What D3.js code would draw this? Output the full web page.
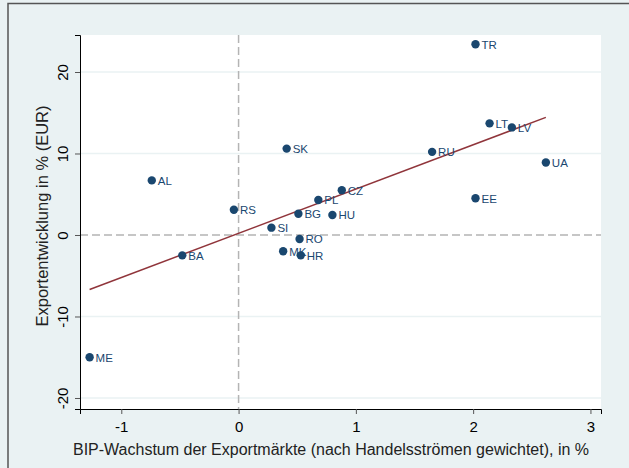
<!DOCTYPE html>
<html>
<head>
  <meta charset="utf-8">
  <title>Exportentwicklung vs. BIP-Wachstum der Exportmärkte</title>
  <style>
    body {
      margin: 0;
      padding: 0;
      background: #eaf2f3;
      font-family: "Liberation Sans", Arial, sans-serif;
    }
    .label {
      fill: #1a476f;
      font-size: 11.5px;
    }
    .tick text {
      font-size: 15px;
      fill: #000;
    }
    .axis-title {
      font-size: 16px;
      fill: #222;
    }
  </style>
</head>
<body>
  <div id="chart"></div>

  <script src="https://d3js.org/d3.v7.min.js"></script>
  <script>

  // country codes and their values (x: GDP growth of export markets, y: export growth)
  var countries = ["TR", "LT", "LV", "RU", "UA", "EE", "SK", "AL", "RS", "SI",
                   "BG", "PL", "CZ", "HU", "RO", "MK", "HR", "BA", "ME"]
  var gdpGrowth = [2.02, 2.14, 2.33, 1.65, 2.62, 2.02, 0.41, -0.74, -0.04, 0.28,
                   0.51, 0.68, 0.88, 0.80, 0.52, 0.38, 0.53, -0.48, -1.27]
  var exportGrowth = [23.4, 13.7, 13.2, 10.2, 8.9, 4.5, 10.6, 6.7, 3.1, 0.9,
                      2.6, 4.3, 5.5, 2.45, -0.5, -2.0, -2.5, -2.5, -15.0]

  // fitted line
  var fitSlope = 5.43,
      fitIntercept = 0.21

  var xTicks = [-1, 0, 1, 2, 3],
      yTicks = [-20, -10, 0, 10, 20]

  var xTitle = "BIP-Wachstum der Exportmärkte (nach Handelsströmen gewichtet), in %",
      yTitle = "Exportentwicklung in % (EUR)"

  var width = 629,
      height = 468

  // plot region edges
  var pLeft = 80, pRight = 601, pTop = 35, pBottom = 409

  var data = countries.map(function (c, i) {
    return {code: c, x: gdpGrowth[i], y: exportGrowth[i]}
  })

  var x = d3.scaleLinear().domain([-1.352, 3.09]).range([pLeft, pRight])
  var y = d3.scaleLinear().domain([-21.35, 24.54]).range([pBottom, pTop])

  // plain hyphen for negatives, like the original
  var fmt = function (d) { return String(d) }

  var svg = d3.select("#chart")
      .append("svg")
      .attr("width", width)
      .attr("height", height)

  // outer frame
  svg.append("rect")
      .attr("x", 8).attr("y", 3.5)
      .attr("width", 700).attr("height", 600)
      .attr("fill", "#eaf2f3")
      .attr("stroke", "#555")
      .attr("stroke-width", 1.5)

  // plot region
  svg.append("rect")
      .attr("x", pLeft).attr("y", pTop)
      .attr("width", pRight - pLeft).attr("height", pBottom - pTop)
      .attr("fill", "white")

  // horizontal grid lines
  svg.append("g")
    .selectAll("line")
    .data(yTicks.filter(function (d) { return d !== 0 }))
    .enter().append("line")
      .attr("x1", pLeft).attr("x2", pRight)
      .attr("y1", function (d) { return y(d) })
      .attr("y2", function (d) { return y(d) })
      .attr("stroke", "#eaf2f3")
      .attr("stroke-width", 1.5)

  // dashed zero lines
  svg.append("line")
      .attr("x1", pLeft).attr("x2", pRight)
      .attr("y1", y(0)).attr("y2", y(0))
      .attr("stroke", "#b4b4b4")
      .attr("stroke-width", 1.5)
      .attr("stroke-dasharray", "8,4")
  svg.append("line")
      .attr("x1", x(0)).attr("x2", x(0))
      .attr("y1", pTop).attr("y2", pBottom)
      .attr("stroke", "#b4b4b4")
      .attr("stroke-width", 1.5)
      .attr("stroke-dasharray", "8,4")

  // axes
  var xAxis = svg.append("g")
      .attr("transform", "translate(0," + pBottom + ")")
      .call(d3.axisBottom(x).tickValues(xTicks).tickSize(5).tickPadding(7).tickFormat(fmt))
  xAxis.select(".domain").attr("stroke", "#000")
  xAxis.selectAll(".tick line").attr("stroke", "#555")

  var yAxis = svg.append("g")
      .attr("transform", "translate(" + pLeft + ",0)")
      .call(d3.axisLeft(y).tickValues(yTicks).tickSize(5).tickFormat(fmt))
  yAxis.select(".domain").attr("stroke", "#000")
  yAxis.selectAll(".tick line").attr("stroke", "#555")
  yAxis.selectAll(".tick text")
      .attr("transform", "rotate(-90)")
      .attr("x", 0).attr("y", -12)
      .attr("dy", "0")
      .style("text-anchor", "middle")

  svg.selectAll("g").attr("font-family", null).attr("font-size", null)

  // axis titles
  svg.append("text")
      .attr("class", "axis-title")
      .attr("x", 331)
      .attr("y", 455)
      .attr("text-anchor", "middle")
      .text(xTitle)
  svg.append("text")
      .attr("class", "axis-title")
      .attr("transform", "translate(48,216) rotate(-90)")
      .attr("text-anchor", "middle")
      .style("font-size", "16.5px")
      .text(yTitle)

  // fitted line across the data range
  var xExt = d3.extent(gdpGrowth)
  svg.append("line")
      .attr("x1", x(xExt[0])).attr("y1", y(fitIntercept + fitSlope * xExt[0]))
      .attr("x2", x(xExt[1])).attr("y2", y(fitIntercept + fitSlope * xExt[1]))
      .attr("stroke", "#90353b")
      .attr("stroke-width", 1.5)

  // points and labels
  var pts = svg.append("g")
    .selectAll("g")
    .data(data)
    .enter().append("g")
      .attr("transform", function (d) {
        return "translate(" + x(d.x) + "," + y(d.y) + ")"
      })

  pts.append("circle")
      .attr("r", 4.2)
      .attr("fill", "#1a476f")

  pts.append("text")
      .attr("class", "label")
      .attr("x", 6)
      .attr("dy", "0.38em")
      .text(function (d) { return d.code })

  </script>
</body>
</html>
